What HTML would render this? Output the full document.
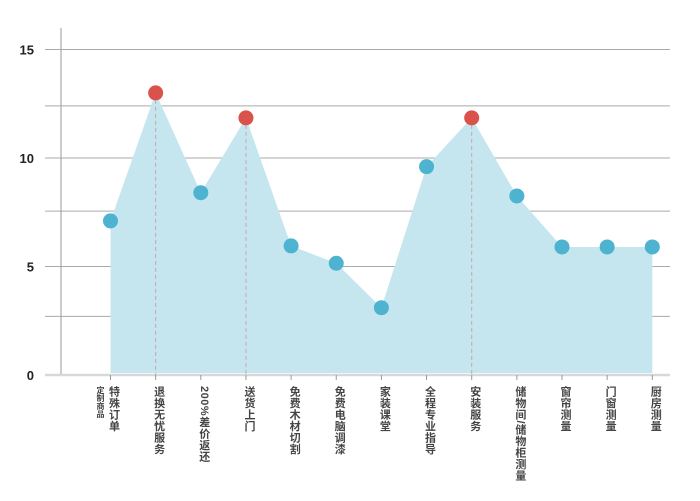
<!DOCTYPE html>
<html><head><meta charset="utf-8"><style>
html,body{margin:0;padding:0;background:#fff;}
svg{display:block;font-family:"Liberation Sans","Noto Sans CJK SC",sans-serif;}
</style></head><body>
<svg id="chart" width="700" height="501"></svg>
<script>
const categories=["特殊订单","退换无忧服务","200%差价返还","送货上门","免费木材切割","免费电脑调漆","家装课堂","全程专业指导","安装服务","储物间/储物柜测量","窗帘测量","门窗测量","厨房测量"];
const values=[7.1,13.0,8.4,11.85,5.95,5.15,3.1,9.6,11.85,8.25,5.9,5.9,5.9];
const highlighted=[false,true,false,true,false,false,false,false,true,false,false,false,false];
const yTicks=[0,5,10,15];
const extraGrid=[2.7,7.55,12.4];
const NS="http://www.w3.org/2000/svg";
const svg=document.getElementById('chart');
const y0=375,yUnit=21.7;
function yScale(v){return y0-v*yUnit;}
function xScale(i){return 110.5+i*45.15;}
function mk(t,a,p){const e=document.createElementNS(NS,t);for(const k in a)e.setAttribute(k,a[k]);(p||svg).appendChild(e);return e;}
// grid
yTicks.concat(extraGrid).forEach(v=>{if(v===0)return;
 const l=mk('line',{x1:45,x2:670,y1:yScale(v),y2:yScale(v),stroke:'#aaa','stroke-width':1});
 
 
});
yTicks.forEach(v=>{
 const t=mk('text',{x:34,y:yScale(v)+5,'text-anchor':'end','font-size':13,'font-weight':'bold',fill:'#222'});
 t.textContent=v;
 
 
});
// area
let d='M'+xScale(0)+','+(y0-2);
values.forEach((v,i)=>{d+=' L'+xScale(i)+','+yScale(v);});
d+=' L'+xScale(values.length-1)+','+(y0-2)+' Z';
const area=mk('path',{d:d,fill:'#c5e5ef'});


// axes
const ya=mk('line',{x1:61,x2:61,y1:28,y2:y0,stroke:'#999','stroke-width':1});


const xa=mk('line',{x1:45,x2:670,y1:y0,y2:y0,stroke:'#d8d8d8','stroke-width':2.5});


values.forEach((v,i)=>{
 const tk=mk('line',{x1:xScale(i),x2:xScale(i),y1:y0,y2:y0+5,stroke:'#999','stroke-width':1});
 
 
 if(highlighted[i]){
  const dl=mk('line',{x1:xScale(i),x2:xScale(i),y1:yScale(v),y2:y0,stroke:'#c9a8a8','stroke-width':1,'stroke-dasharray':'4,3'});
  
  
 }
});
values.forEach((v,i)=>{
 const c=mk('circle',{cx:xScale(i),cy:yScale(v),r:7.5,fill:highlighted[i]?'#d9534a':'#4db3d0'});
 
 
});
categories.forEach((c,i)=>{
 const g=mk('text',{x:xScale(i)+3,y:386,'font-size':11,'font-weight':'bold',fill:'#444','writing-mode':'tb','glyph-orientation-vertical':0,style:'writing-mode:vertical-rl;letter-spacing:0.5px'});
 g.textContent=c;
 
 
});
const sub=mk('text',{x:xScale(0)-10,y:386,'font-size':8,'font-weight':'bold',fill:'#444',style:'writing-mode:vertical-rl'});
sub.textContent='定制商品';


</script>
</body></html>
